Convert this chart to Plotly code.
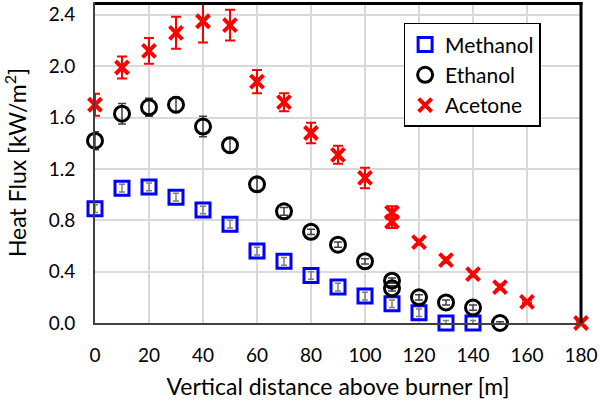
import plotly.graph_objects as go

# distance above burner [m]
meth_x = [0, 10, 20, 30, 40, 50, 60, 70, 80, 90, 100, 110, 120, 130, 140]
meth_y = [0.89, 1.05, 1.06, 0.98, 0.88, 0.77, 0.56, 0.48, 0.37, 0.28, 0.21, 0.15, 0.08, 0.0, 0.0]
meth_err = [0.03, 0.03, 0.03, 0.03, 0.03, 0.03, 0.03, 0.03, 0.03, 0.03, 0.03, 0.03, 0.03, 0.02, 0.02]

eth_x = [0, 10, 20, 30, 40, 50, 60, 70, 80, 90, 100, 110, 110, 120, 130, 140, 150]
eth_y = [1.42, 1.63, 1.68, 1.70, 1.53, 1.385, 1.08, 0.87, 0.71, 0.61, 0.48, 0.33, 0.27, 0.20, 0.16, 0.12, 0.0]
eth_err = [0.07, 0.08, 0.07, 0.06, 0.08, 0.06, 0.05, 0.03, 0.02, 0.02, 0.02, 0.02, 0.02, 0.02, 0.02, 0.02, 0.01]

ace_x = [0, 10, 20, 30, 40, 50, 60, 70, 80, 90, 100, 110, 110, 120, 130, 140, 150, 160, 180]
ace_y = [1.70, 1.99, 2.12, 2.26, 2.35, 2.32, 1.88, 1.72, 1.48, 1.31, 1.13, 0.86, 0.79, 0.63, 0.49, 0.38, 0.28, 0.165, 0.0]
ace_err = [0.085, 0.085, 0.1, 0.125, 0.165, 0.12, 0.09, 0.07, 0.08, 0.07, 0.08, 0.05, 0.05, 0.02, 0.02, 0.02, 0.02, 0.01, 0.01]

FONT = "Lato, Open Sans, sans-serif"

fig = go.Figure()
fig.add_trace(go.Scatter(
    x=meth_x, y=meth_y, name="Methanol", mode="markers", cliponaxis=False,
    marker=dict(symbol="square-open", size=14, color="#0000ff", line=dict(width=3)),
    error_y=dict(type="data", array=meth_err, color="#7f7f7f", thickness=1.5, width=3),
))
fig.add_trace(go.Scatter(
    x=eth_x, y=eth_y, name="Ethanol", mode="markers", cliponaxis=False,
    marker=dict(symbol="circle-open", size=15, color="#000000", line=dict(width=3)),
    error_y=dict(type="data", array=eth_err, color="#404040", thickness=1.5, width=4),
))
fig.add_trace(go.Scatter(
    x=ace_x, y=ace_y, name="Acetone", mode="markers", cliponaxis=False,
    marker=dict(symbol="x-thin", size=13, color="#ff0000",
                line=dict(width=4, color="#ff0000")),
    error_y=dict(type="data", array=ace_err, color="#ff0000", thickness=2, width=5),
))

# black frame on top and right
fig.add_shape(type="line", xref="paper", yref="paper", x0=0, x1=1.003, y0=0.995, y1=0.995,
              line=dict(color="black", width=3), layer="above")
fig.add_shape(type="line", xref="paper", yref="paper", x0=1, x1=1, y0=0, y1=1,
              line=dict(color="black", width=3), layer="above")

fig.update_layout(
    width=600, height=407,
    margin=dict(l=95, r=17, t=2, b=84),
    plot_bgcolor="white", paper_bgcolor="white",
    font=dict(family=FONT, size=19, color="black"),
    showlegend=True,
    legend=dict(x=0.635, y=0.935, xanchor="left", yanchor="top",
                bordercolor="black", borderwidth=1.5, bgcolor="white",
                font=dict(size=21), itemwidth=30, tracegroupgap=0),
    xaxis=dict(range=[0, 180], tickvals=list(range(0, 181, 20)),
               showgrid=True, gridcolor="#d9d9d9", gridwidth=2,
               showline=True, linecolor="#404040", linewidth=2,
               zeroline=False, ticks="", ticklabelstandoff=14,
               title=dict(text="Vertical distance above burner [m]", standoff=14)),
    yaxis=dict(range=[0, 2.5], tickvals=[0, 0.4, 0.8, 1.2, 1.6, 2.0, 2.4],
               tickformat=".1f",
               showgrid=True, gridcolor="#d9d9d9", gridwidth=2,
               showline=True, linecolor="#404040", linewidth=2,
               zeroline=False, ticks="", ticklabelstandoff=14,
               title=dict(text="Heat Flux [kW/m<sup>2</sup>]", standoff=20)),
)

fig.write_html("out.html", config={"displayModeBar": False},
               post_script="document.body.style.margin='0';")
